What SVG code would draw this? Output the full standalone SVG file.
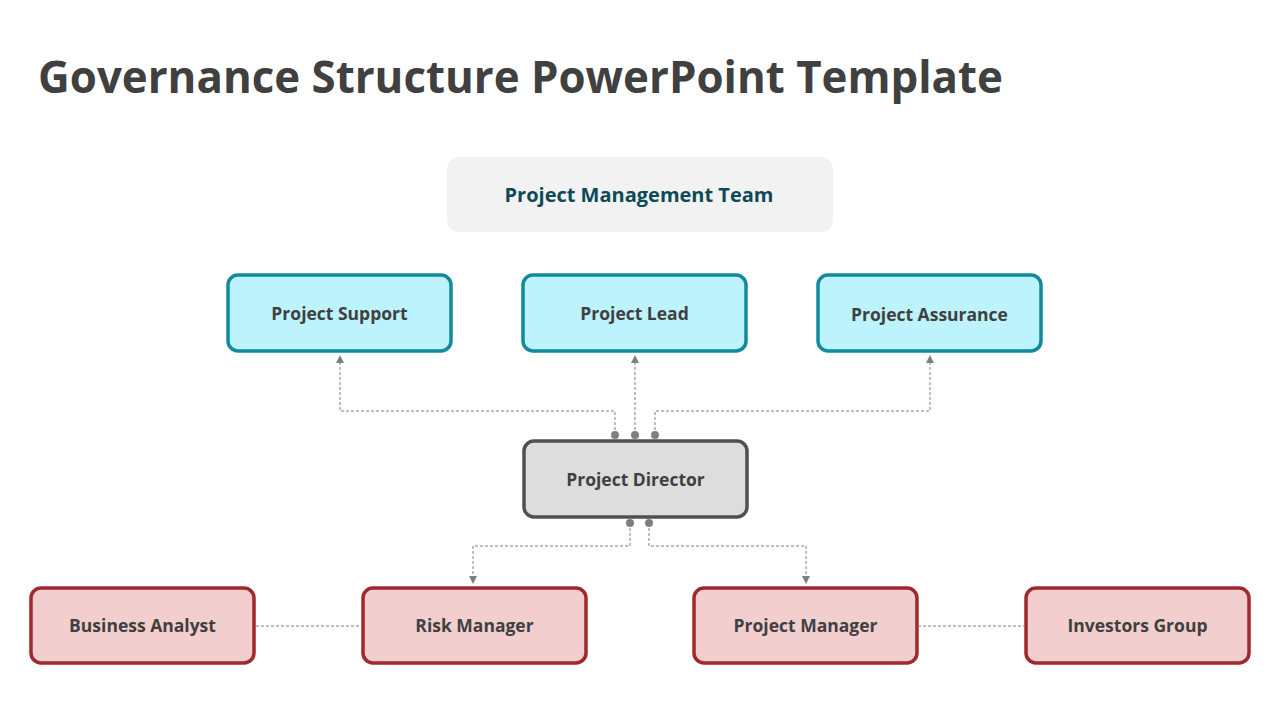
<svg xmlns="http://www.w3.org/2000/svg" width="1280" height="720" viewBox="0 0 1280 720">
<defs>
<marker id="arr" viewBox="0 0 10 10" refX="5" refY="5" markerWidth="8" markerHeight="8" markerUnits="userSpaceOnUse" orient="auto">
<path d="M0,0 L10,5 L0,10 z" fill="#7F7F7F"/>
</marker>
<style>
.lbl{font-family:"Open Sans","Noto Sans",sans-serif;font-weight:bold;font-size:17.5px;fill:#404040;text-anchor:middle;dominant-baseline:central}
.blue rect{fill:#BDF3FC;stroke:#138A9C;stroke-width:3.5}
.red rect{fill:#F2CECE;stroke:#A1282C;stroke-width:3.5}
.grey rect{fill:#DDDDDD;stroke:#505050;stroke-width:3.5}
.con{fill:none;stroke:#7F7F7F;stroke-width:1;stroke-dasharray:3 2}
.dot{fill:#7F7F7F}
</style>
</defs>
<rect width="1280" height="720" fill="#FFFFFF"/>
<text x="38" y="93" font-family="Open Sans, Noto Sans, sans-serif" font-weight="bold" font-size="44" textLength="965" lengthAdjust="spacingAndGlyphs" fill="#404040">Governance Structure PowerPoint Template</text>

<g id="pmt">
<rect x="447" y="157" width="386" height="75" rx="12" fill="#F2F2F2"/>
<text x="639" y="194" class="lbl" style="font-size:20px;fill:#0D4A57">Project Management Team</text>
</g>
<g id="support" class="blue"><rect x="228" y="275" width="223" height="76" rx="10"/><text class="lbl" x="339.5" y="313">Project Support</text></g>
<g id="lead" class="blue"><rect x="523" y="275" width="223" height="76" rx="10"/><text class="lbl" x="634.5" y="313">Project Lead</text></g>
<g id="assurance" class="blue"><rect x="818" y="275" width="223" height="76" rx="10"/><text class="lbl" x="929.5" y="314">Project Assurance</text></g>
<g id="director" class="grey"><rect x="524" y="441" width="223" height="76" rx="10"/><text class="lbl" x="635.5" y="479">Project Director</text></g>
<g id="analyst" class="red"><rect x="31" y="588" width="223" height="75" rx="10"/><text class="lbl" x="142.5" y="625">Business Analyst</text></g>
<g id="risk" class="red"><rect x="363" y="588" width="223" height="75" rx="10"/><text class="lbl" x="474.5" y="625">Risk Manager</text></g>
<g id="pm" class="red"><rect x="694" y="588" width="223" height="75" rx="10"/><text class="lbl" x="805.5" y="625">Project Manager</text></g>
<g id="investors" class="red"><rect x="1026" y="588" width="223" height="75" rx="10"/><text class="lbl" x="1137.5" y="625">Investors Group</text></g>

<g id="connectors">
<path class="con" d="M615,435 V411 H340 V359" marker-end="url(#arr)"/>
<path class="con" d="M635,435 V359" marker-end="url(#arr)"/>
<path class="con" d="M655,435 V411 H930 V359" marker-end="url(#arr)"/>
<circle class="dot" cx="615" cy="435" r="4"/>
<circle class="dot" cx="635" cy="435" r="4"/>
<circle class="dot" cx="655" cy="435" r="4"/>
<path class="con" d="M630,523 V546 H473 V580" marker-end="url(#arr)"/>
<path class="con" d="M649,523 V546 H806 V580" marker-end="url(#arr)"/>
<circle class="dot" cx="630" cy="523" r="4"/>
<circle class="dot" cx="649" cy="523" r="4"/>
<path class="con" d="M256,626 H362"/>
<path class="con" d="M918,626 H1025"/>
</g>
</svg>
